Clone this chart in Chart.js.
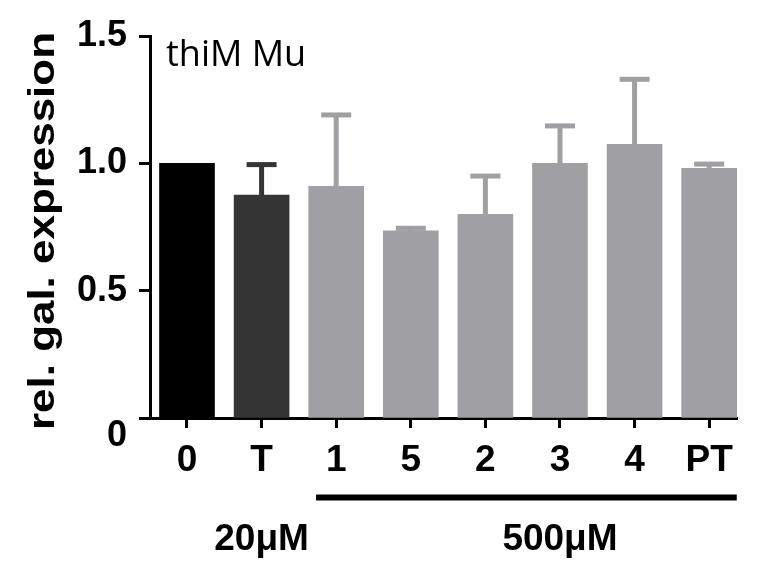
<!DOCTYPE html>
<html>
<head>
<meta charset="utf-8">
<script src="https://cdn.jsdelivr.net/npm/chart.js@4"></script>
<style>
  html, body { margin: 0; padding: 0; background: #fff; }
  #wrap { width: 758px; height: 561px; }
</style>
</head>
<body>
<div id="wrap"><canvas id="chart" width="758" height="561"></canvas></div>
<script>
// Data
const categories = ['0', 'T', '1', '5', '2', '3', '4', 'PT'];
const means = [1.0, 0.875, 0.91, 0.735, 0.80, 1.0, 1.075, 0.98];
const errors = [0, 0.12, 0.28, 0.01, 0.15, 0.147, 0.255, 0.017];
const barColors = ['#000000', '#353535', '#a09fa4', '#a09fa4', '#a09fa4', '#a09fa4', '#a09fa4', '#a09fa4'];
const yTicks = [0, 0.5, 1.0, 1.5];
const groupLabels = ['20μM', '500μM'];
const groupCenters = [1, 5];
const groupLine = [1.73, 7.37];

const yTitle = 'rel. gal. expression';
const panelTitle = 'thiM Mu';
const boldFont = "'Liberation Sans', Arial, sans-serif";

// Error bars (upper only), drawn through the chart scales
const errorBarPlugin = {
  id: 'errorBars',
  afterDatasetsDraw(chart) {
    const ctx = chart.ctx;
    const xs = chart.scales.x;
    const ys = chart.scales.y;
    ctx.save();
    means.forEach((m, i) => {
      if (!errors[i]) return;
      const x = xs.getPixelForValue(i);
      const yBar = ys.getPixelForValue(m);
      const yTop = ys.getPixelForValue(m + errors[i]);
      ctx.strokeStyle = barColors[i];
      ctx.lineWidth = 5;
      ctx.beginPath();
      ctx.moveTo(x, yBar);
      ctx.lineTo(x, yTop);
      ctx.stroke();
      ctx.beginPath();
      ctx.moveTo(x - 15, yTop);
      ctx.lineTo(x + 15, yTop);
      ctx.stroke();
    });
    ctx.restore();
  }
};

// Texts outside the axes: y title, panel title, dose groups
const annotationPlugin = {
  id: 'annotations',
  afterDraw(chart) {
    const ctx = chart.ctx;
    const xs = chart.scales.x;
    ctx.save();
    ctx.fillStyle = '#000';

    // y axis title, stretched along its length like the original
    ctx.font = 'bold 36px ' + boldFont;
    const w = ctx.measureText(yTitle).width;
    ctx.translate(54, 231);
    ctx.rotate(-Math.PI / 2);
    ctx.scale(398 / w, 1);
    ctx.textAlign = 'center';
    ctx.textBaseline = 'alphabetic';
    ctx.fillText(yTitle, 0, 0);
    ctx.setTransform(1, 0, 0, 1, 0, 0);

    // panel title
    ctx.font = "36px 'Open Sans', sans-serif";
    ctx.textAlign = 'left';
    ctx.fillText(panelTitle, 166, 66);

    // line under the 500µM group
    ctx.strokeStyle = '#000';
    ctx.lineWidth = 6;
    ctx.beginPath();
    ctx.moveTo(xs.getPixelForValue(groupLine[0]), 497.5);
    ctx.lineTo(xs.getPixelForValue(groupLine[1]), 497.5);
    ctx.stroke();

    // dose labels
    ctx.font = 'bold 37px ' + boldFont;
    ctx.textAlign = 'center';
    groupLabels.forEach((t, i) => {
      ctx.fillText(t, xs.getPixelForValue(groupCenters[i]), 550);
    });
    ctx.restore();
  }
};

const ctx = document.getElementById('chart').getContext('2d');
new Chart(ctx, {
  type: 'bar',
  data: {
    datasets: [{
      data: means.map((m, i) => ({ x: i, y: m })),
      backgroundColor: barColors,
      borderWidth: 0,
      barThickness: 55
    }]
  },
  options: {
    responsive: false,
    animation: false,
    layout: { padding: { left: 0, right: 21, top: 36, bottom: 0 } },
    plugins: {
      legend: { display: false },
      tooltip: { enabled: false }
    },
    scales: {
      x: {
        type: 'linear',
        offset: false,
        min: -0.496,
        max: 7.373,
        afterBuildTicks: (s) => { s.ticks = categories.map((c, i) => ({ value: i })); },
        afterFit: (s) => { s.height = 143; },
        border: { display: true, color: '#000', width: 3 },
        grid: {
          display: true,
          offset: false,
          drawOnChartArea: false,
          drawTicks: true,
          tickLength: 10,
          tickWidth: 3,
          tickColor: '#000'
        },
        ticks: {
          color: '#000',
          padding: 11,
          maxRotation: 0,
          autoSkip: false,
          font: { family: boldFont, size: 37, weight: 'bold', lineHeight: 1.2 },
          callback: (v) => categories[v]
        }
      },
      y: {
        min: 0,
        max: 1.5,
        afterBuildTicks: (s) => { s.ticks = yTicks.map((v) => ({ value: v })); },
        afterFit: (s) => { s.width = 150; },
        border: { display: true, color: '#000', width: 3 },
        grid: {
          display: true,
          drawOnChartArea: false,
          drawTicks: true,
          tickLength: 11,
          tickWidth: 3,
          tickColor: '#000'
        },
        ticks: {
          color: '#000',
          padding: 12,
          font: { family: boldFont, size: 36, weight: 'bold', lineHeight: 1 },
          callback: (v) => v === 0 ? ['', '0'] : v.toFixed(1)
        }
      }
    }
  },
  plugins: [errorBarPlugin, annotationPlugin]
});
</script>
</body>
</html>
